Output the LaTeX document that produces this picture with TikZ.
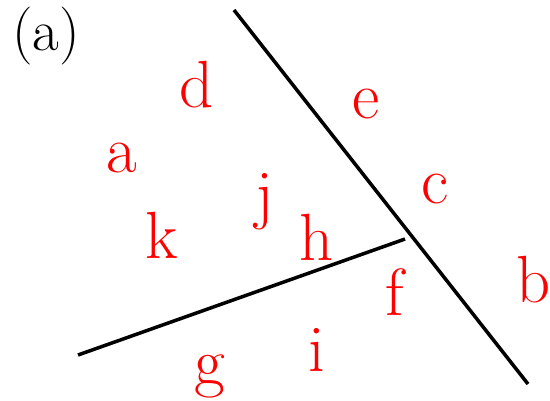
\documentclass[tikz,border=0pt]{standalone}
\usepackage{fontspec}
\usepackage{xcolor}
\usepackage{tikz}

\tikzset{
  region/.style={text=red, anchor=base, inner sep=0pt, font=\fontsize{38}{42}\selectfont},
  wall/.style={black, line width=2pt}
}

\begin{document}
\begin{tikzpicture}[x=0.02cm, y=-0.02cm]
  \useasboundingbox (0,0) rectangle (550,400);
  % ------- panel label -------
  \node[anchor=base, inner sep=0pt, font=\fontsize{33}{38}\selectfont] (lbl) at (46,50) {(a)};
  % ------- the two walls -------
  \coordinate (w1a) at (234,10);
  \coordinate (w1b) at (528,384);
  \coordinate (w2a) at (78,355);
  \coordinate (w2b) at (405,239);
  \draw[wall] (w1a) -- (w1b);
  \draw[wall] (w2a) -- (w2b);
  % ------- region letters -------
  \foreach \x/\y/\t in {197/107/d,366/118/e,122/172/a,435/203/c,265/216/j,162/258/k,
                        317/260/h,534/302/b,395/315/f,317/371/i,210/384/g}
    \node[region] (\t) at (\x,\y) {\t};
\end{tikzpicture}
\end{document}
